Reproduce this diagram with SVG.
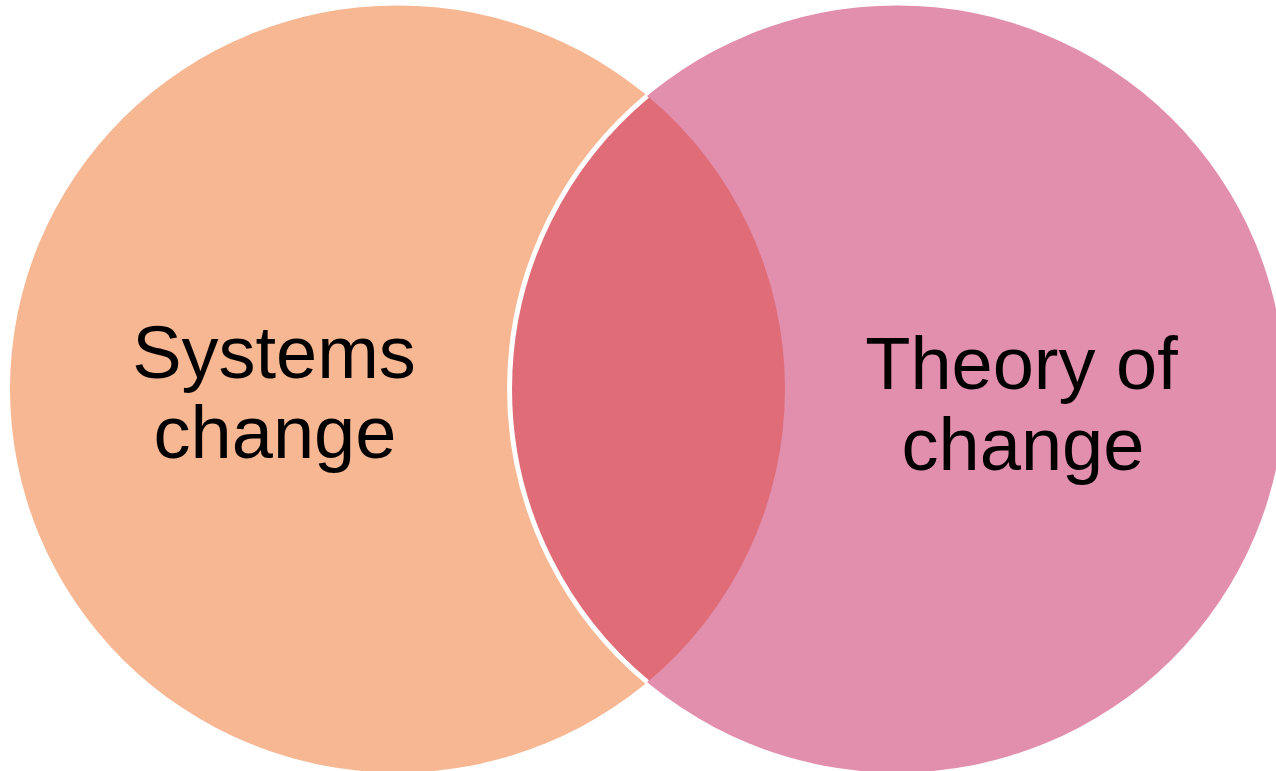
<svg xmlns="http://www.w3.org/2000/svg" width="1276" height="771" viewBox="0 0 1276 771">
  <style>
    .lbl { font-family: "Liberation Sans", Arial, sans-serif; font-size: 74px; fill: #000; text-anchor: middle; }
  </style>
  <rect x="0" y="0" width="1276" height="771" fill="#ffffff"/>
  <g id="systems-change">
    <ellipse cx="397.5" cy="389" rx="387.5" ry="383.5" fill="#F7B792"/>
  </g>
  <g id="theory-of-change">
    <ellipse cx="897" cy="389" rx="387.5" ry="383.5" fill="#E28EAD"/>
  </g>
  <g id="overlap">
    <path d="M 647.25 95.8 A 387.5 383.5 0 0 0 647.25 682.2 A 387.5 383.5 0 0 0 647.25 95.8 Z" fill="#E06C78"/>
  </g>
  <g id="connectors">
    <path d="M 647.25 95.8 A 387.5 383.5 0 0 0 647.25 682.2" fill="none" stroke="#ffffff" stroke-width="5"/>
  </g>
  <g id="labels">
    <text class="lbl" x="274" y="378">Systems</text>
    <text class="lbl" x="275" y="458">change</text>
    <text class="lbl" x="1021.5" y="389">Theory of</text>
    <text class="lbl" x="1023" y="470">change</text>
  </g>
</svg>
